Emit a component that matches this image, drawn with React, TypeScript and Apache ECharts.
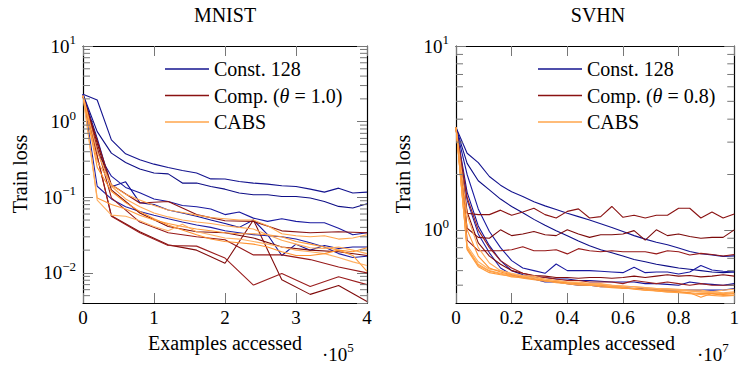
import React, { useEffect, useRef } from 'react';
import * as echarts from 'echarts';

// ---------- MNIST ----------
const mnistXDense = [0, 0.2, 0.4, 0.6, 0.8, 1.0, 1.2, 1.4, 1.6, 1.8, 2.0, 2.2, 2.4, 2.6, 2.8, 3.0, 3.2, 3.4, 3.6, 3.8, 4.0];
const mnistXSparse = [0, 0.4, 0.8, 1.2, 1.6, 2.0, 2.4, 2.8, 3.2, 3.6, 4.0];

const mnistConst1 = [2.3, 1.93, 0.574, 0.375, 0.313, 0.274, 0.247, 0.226, 0.209, 0.175, 0.174, 0.162, 0.154, 0.149, 0.142, 0.139, 0.128, 0.117, 0.132, 0.114, 0.117];
const mnistConst2 = [2.3, 0.738, 0.383, 0.288, 0.236, 0.209, 0.204, 0.154, 0.154, 0.139, 0.128, 0.114, 0.108, 0.108, 0.1025, 0.1025, 0.0976, 0.088, 0.0757, 0.072, 0.082];
const mnistConst3 = [2.3, 0.40, 0.19, 0.135, 0.115, 0.095, 0.088, 0.078, 0.075, 0.07, 0.059, 0.064, 0.053, 0.048, 0.052, 0.048, 0.046, 0.046, 0.039, 0.032, 0.034];
const mnistConst4 = [2.3, 0.60, 0.138, 0.16, 0.085, 0.08, 0.068, 0.062, 0.056, 0.05, 0.045, 0.04, 0.05, 0.032, 0.017, 0.024, 0.02, 0.023, 0.021, 0.022, 0.022];
const mnistConst5 = [2.3, 0.14, 0.095, 0.075, 0.065, 0.058, 0.052, 0.047, 0.043, 0.040, 0.036, 0.034, 0.032, 0.031, 0.030, 0.028, 0.025, 0.022, 0.018, 0.016, 0.0166];

const mnistComp1 = [2.15, 0.146, 0.084, 0.088, 0.059, 0.049, 0.048, 0.036, 0.034, 0.035, 0.034];
const mnistComp2 = [2.15, 0.125, 0.062, 0.041, 0.035, 0.034, 0.029, 0.022, 0.020, 0.019, 0.017];
const mnistComp3 = [2.15, 0.098, 0.047, 0.034, 0.030, 0.0275, 0.0173, 0.0173, 0.015, 0.012, 0.010];
const mnistComp4 = [2.15, 0.057, 0.035, 0.0235, 0.020, 0.0134, 0.050, 0.0081, 0.0052, 0.0068, 0.0042];
const mnistComp5 = [2.15, 0.056, 0.034, 0.023, 0.0226, 0.0157, 0.0069, 0.0098, 0.0066, 0.0089, 0.007];

const mnistCabs1 = [2.2, 0.3, 0.145, 0.11, 0.092, 0.078, 0.068, 0.063, 0.058, 0.054, 0.052, 0.050, 0.050, 0.042, 0.033, 0.031, 0.030, 0.031, 0.028, 0.029, 0.032];
const mnistCabs2 = [2.2, 0.098, 0.080, 0.070, 0.058, 0.050, 0.045, 0.041, 0.038, 0.036, 0.034, 0.033, 0.033, 0.032, 0.030, 0.026, 0.024, 0.022, 0.020, 0.017, 0.0105];
const mnistCabs3 = [2.2, 0.092, 0.058, 0.056, 0.049, 0.041, 0.036, 0.044, 0.035, 0.032, 0.029, 0.028, 0.026, 0.024, 0.022, 0.020, 0.019, 0.018, 0.016, 0.014, 0.0125];
const mnistCabs4 = [2.2, 0.25, 0.12, 0.085, 0.065, 0.052, 0.043, 0.037, 0.032, 0.028, 0.026, 0.025, 0.024, 0.022, 0.019, 0.017, 0.017, 0.018, 0.020, 0.019, 0.0215];
const mnistCabs5 = [2.2, 0.4, 0.14, 0.095, 0.075, 0.062, 0.055, 0.05, 0.047, 0.045, 0.042, 0.04, 0.038, 0.032, 0.027, 0.024, 0.0215, 0.021, 0.022, 0.02, 0.018];

const mnistMinorTicks = [0.005, 0.006, 0.007, 0.008, 0.009, 0.02, 0.03, 0.04, 0.05, 0.06, 0.07, 0.08, 0.09, 0.2, 0.3, 0.4, 0.5, 0.6, 0.7, 0.8, 0.9, 2, 3, 4, 5, 6, 7, 8, 9];

// ---------- SVHN ----------
const svhnX = [0, 0.04, 0.08, 0.12, 0.16, 0.2, 0.24, 0.28, 0.32, 0.36, 0.4, 0.44, 0.48, 0.52, 0.56, 0.6, 0.64, 0.68, 0.72, 0.76, 0.8, 0.84, 0.88, 0.92, 0.96, 1.0];

const svhnConst1 = [3.6, 2.61, 2.32, 1.95, 1.75, 1.61, 1.52, 1.42, 1.35, 1.29, 1.23, 1.18, 1.13, 1.08, 1.03, 0.98, 0.93, 0.89, 0.857, 0.83, 0.796, 0.763, 0.741, 0.731, 0.717, 0.722];
const svhnConst2 = [3.6, 2.3, 1.85, 1.65, 1.47, 1.34, 1.24, 1.14, 1.06, 0.99, 0.93, 0.87, 0.82, 0.78, 0.75, 0.72, 0.69, 0.67, 0.65, 0.635, 0.62, 0.61, 0.6, 0.59, 0.585, 0.59];
const svhnConst3 = [3.6, 2.0, 1.3, 0.98, 0.8, 0.68, 0.62, 0.6, 0.58, 0.652, 0.6, 0.6, 0.6, 0.595, 0.59, 0.585, 0.625, 0.585, 0.59, 0.59, 0.575, 0.59, 0.64, 0.605, 0.595, 0.59];
const svhnConst4 = [3.6, 1.6, 1.05, 0.82, 0.68, 0.6, 0.57, 0.55, 0.55, 0.54, 0.54, 0.53, 0.53, 0.525, 0.52, 0.52, 0.52, 0.51, 0.51, 0.505, 0.5, 0.52, 0.51, 0.505, 0.5, 0.51];
const svhnConst5 = [3.6, 1.45, 0.95, 0.75, 0.62, 0.57, 0.55, 0.54, 0.52, 0.52, 0.51, 0.5, 0.5, 0.49, 0.49, 0.485, 0.48, 0.48, 0.475, 0.47, 0.47, 0.47, 0.47, 0.47, 0.47, 0.48];

const svhnComp1 = [3.6, 1.23, 1.21, 1.21, 1.28, 1.2, 1.25, 1.31, 1.21, 1.16, 1.26, 1.3, 1.16, 1.18, 1.34, 1.17, 1.2, 1.16, 1.2, 1.2, 1.31, 1.31, 1.16, 1.25, 1.16, 1.22];
const svhnComp2 = [3.6, 1.02, 0.91, 0.90, 1.0, 0.93, 0.95, 0.98, 0.94, 0.93, 1.0, 0.95, 0.91, 0.94, 0.94, 0.95, 0.99, 0.88, 1.0, 0.93, 0.95, 0.92, 0.9, 0.91, 0.91, 1.0];
const svhnComp3 = [3.6, 0.88, 0.77, 0.77, 0.77, 0.78, 0.81, 0.77, 0.77, 0.78, 0.74, 0.79, 0.77, 0.76, 0.77, 0.76, 0.76, 0.76, 0.74, 0.77, 0.76, 0.73, 0.745, 0.735, 0.72, 0.735];
const svhnComp4 = [3.6, 1.25, 0.85, 0.72, 0.65, 0.6, 0.58, 0.565, 0.56, 0.55, 0.55, 0.545, 0.55, 0.55, 0.545, 0.55, 0.56, 0.55, 0.56, 0.57, 0.56, 0.565, 0.555, 0.56, 0.57, 0.56];
const svhnComp5 = [3.6, 1.5, 1.0, 0.8, 0.68, 0.62, 0.58, 0.56, 0.55, 0.54, 0.53, 0.53, 0.52, 0.52, 0.52, 0.51, 0.53, 0.52, 0.51, 0.52, 0.51, 0.5, 0.51, 0.5, 0.5, 0.5];

const svhnCabs1 = [3.6, 0.80, 0.65, 0.6, 0.58, 0.565, 0.56, 0.55, 0.53, 0.525, 0.515, 0.51, 0.505, 0.5, 0.495, 0.49, 0.49, 0.48, 0.475, 0.47, 0.47, 0.465, 0.46, 0.455, 0.45, 0.455];
const svhnCabs2 = [3.6, 0.78, 0.63, 0.585, 0.57, 0.56, 0.545, 0.535, 0.525, 0.52, 0.51, 0.5, 0.5, 0.49, 0.485, 0.48, 0.48, 0.475, 0.465, 0.46, 0.46, 0.455, 0.45, 0.45, 0.44, 0.44];
const svhnCabs3 = [3.6, 0.82, 0.67, 0.61, 0.6, 0.58, 0.565, 0.56, 0.54, 0.53, 0.52, 0.52, 0.51, 0.51, 0.5, 0.495, 0.49, 0.485, 0.48, 0.48, 0.475, 0.47, 0.47, 0.46, 0.47, 0.475];
const svhnCabs4 = [3.6, 1.0, 0.72, 0.62, 0.59, 0.57, 0.555, 0.54, 0.53, 0.52, 0.515, 0.51, 0.5, 0.5, 0.49, 0.485, 0.475, 0.47, 0.47, 0.465, 0.46, 0.455, 0.43, 0.45, 0.445, 0.45];
const svhnCabs5 = [3.6, 1.2, 0.8, 0.66, 0.6, 0.575, 0.56, 0.55, 0.54, 0.53, 0.52, 0.515, 0.51, 0.505, 0.5, 0.495, 0.49, 0.485, 0.48, 0.475, 0.47, 0.465, 0.46, 0.46, 0.455, 0.46];
const svhnCabs6 = [3.6, 0.79, 0.64, 0.595, 0.575, 0.555, 0.55, 0.54, 0.53, 0.515, 0.51, 0.505, 0.5, 0.495, 0.49, 0.485, 0.48, 0.47, 0.465, 0.46, 0.455, 0.45, 0.445, 0.44, 0.435, 0.44];

const svhnMinorTicks = [0.5, 0.6, 0.7, 0.8, 0.9, 2, 3, 4, 5, 6, 7, 8, 9];

const blueShades = ['#14148f', '#0e0e86', '#1a1aa0', '#12129a', '#2020a6'];
const redShades = ['#8a1212', '#7c0a0a', '#961818', '#800c0c', '#9a1e1e'];
const orangeShades = ['#ffa64d', '#ff9a3a', '#ffb062', '#ff922e', '#ffaa58', '#ff9f44'];

const FONT = "'Liberation Serif', 'DejaVu Serif', serif";
const FS = 20;

const supLabel = (v: number) => {
  const e = Math.log10(v);
  const r = Math.round(e);
  if (Math.abs(e - r) > 1e-6) return '';
  return `{b|10}{s|${r < 0 ? '\u2212' + -r : r}}`;
};
const supRich = {
  b: { fontSize: 19, fontFamily: FONT, color: '#000', lineHeight: 26 },
  s: { fontSize: 13, fontFamily: FONT, color: '#000', lineHeight: 13, verticalAlign: 'top' },
};

export default function App() {
  const ref = useRef<HTMLDivElement>(null);
  useEffect(() => {
    if (!ref.current) return;
    const chart = echarts.init(ref.current, undefined, { renderer: 'svg' });

    const mkLine = (name: string, xs: number[], ys: number[], color: string, gi: number) => ({
      type: 'line',
      name,
      xAxisIndex: gi * 2,
      yAxisIndex: gi * 2,
      data: xs.map((x, i) => [x, ys[i]]),
      symbol: 'none',
      showSymbol: false,
      lineStyle: { color, width: 1.1 },
      itemStyle: { color },
      z: 3,
    });

    const mkMinor = (vals: number[], gi: number) => ({
      type: 'custom',
      xAxisIndex: gi * 2,
      yAxisIndex: gi * 2,
      silent: true,
      clip: false,
      z: 5,
      data: vals.map((v) => [0, v]),
      renderItem: (params: any, api: any) => {
        const cs = params.coordSys;
        const y = api.coord([0, api.value(1)])[1];
        return {
          type: 'group',
          children: [
            { type: 'line', shape: { x1: cs.x, y1: y, x2: cs.x + 7, y2: y }, style: { stroke: '#777', lineWidth: 1 } },
            { type: 'line', shape: { x1: cs.x + cs.width - 7, y1: y, x2: cs.x + cs.width, y2: y }, style: { stroke: '#777', lineWidth: 1 } },
          ],
        };
      },
    });

    const cMnist = 'Const. 128';
    const pMnist = 'Comp. (θ = 1.0)';
    const pSvhn = 'Comp. (θ = 0.8)';
    const cabs = 'CABS';

    const series: any[] = [];
    [mnistConst1, mnistConst2, mnistConst3, mnistConst4, mnistConst5].forEach((d, i) => series.push(mkLine(cMnist, mnistXDense, d, blueShades[i], 0)));
    [mnistComp1, mnistComp2, mnistComp3, mnistComp4, mnistComp5].forEach((d, i) => series.push(mkLine(pMnist, mnistXSparse, d, redShades[i], 0)));
    [mnistCabs1, mnistCabs2, mnistCabs3, mnistCabs4, mnistCabs5].forEach((d, i) => series.push(mkLine(cabs, mnistXDense, d, orangeShades[i], 0)));
    [svhnConst1, svhnConst2, svhnConst3, svhnConst4, svhnConst5].forEach((d, i) => series.push(mkLine(cMnist, svhnX, d, blueShades[i], 1)));
    [svhnComp1, svhnComp2, svhnComp3, svhnComp4, svhnComp5].forEach((d, i) => series.push(mkLine(pSvhn, svhnX, d, redShades[i], 1)));
    [svhnCabs1, svhnCabs2, svhnCabs3, svhnCabs4, svhnCabs5, svhnCabs6].forEach((d, i) => series.push(mkLine(cabs, svhnX, d, orangeShades[i], 1)));
    series.push(mkMinor(mnistMinorTicks, 0));
    series.push(mkMinor(svhnMinorTicks, 1));

    const axisLine = { show: true, onZero: false, lineStyle: { color: '#000', width: 1.2 } };
    const tick = { show: true, inside: true, length: 10, lineStyle: { color: '#777', width: 1 } };
    const xLabel = { margin: 5, fontSize: 19, fontFamily: FONT, color: '#000' };

    const mkX = (gi: number, max: number, interval: number) => [
      { gridIndex: gi, type: 'value', min: 0, max, interval, position: 'bottom', axisLine, axisTick: tick, axisLabel: xLabel, splitLine: { show: false } },
      { gridIndex: gi, type: 'value', min: 0, max, interval, position: 'top', axisLine, axisTick: tick, axisLabel: { show: false }, splitLine: { show: false } },
    ];
    const mkY = (gi: number, min: number) => [
      {
        gridIndex: gi, type: 'log', logBase: 10, min, max: 10, position: 'left', axisLine, axisTick: tick,
        axisLabel: { margin: 7, formatter: supLabel, rich: supRich, showMinLabel: false }, splitLine: { show: false },
      },
      {
        gridIndex: gi, type: 'log', logBase: 10, min, max: 10, position: 'right', axisLine, axisTick: tick,
        axisLabel: { show: false }, splitLine: { show: false },
      },
    ];

    const legendText = {
      fontFamily: FONT, fontSize: FS, color: '#000', lineHeight: 20,
      rich: { i: { fontFamily: FONT, fontSize: FS, fontStyle: 'italic', color: '#000', lineHeight: 20 } },
    };
    const legendFmt = (n: string) => n.replace('θ', '{i|θ}');
    const legendBase = {
      orient: 'vertical', top: 54, itemWidth: 44, itemHeight: 1.4, itemGap: 6.5, icon: 'rect',
      textStyle: legendText, formatter: legendFmt, selectedMode: false,
    };

    const textEl = (text: string, x: number, y: number, rotation = 0) => ({
      type: 'text', x, y, rotation,
      style: { text, fontFamily: FONT, fontSize: FS, fill: '#000', textAlign: 'center', textVerticalAlign: 'middle' },
    });
    const expEl = (exp: string, x: number, y: number) => ({
      type: 'text', x, y,
      style: {
        text: `{b|·10}{s|${exp}}`, textAlign: 'left', textVerticalAlign: 'middle',
        rich: supRich,
      },
    });

    chart.setOption({
      animation: false,
      backgroundColor: '#fff',
      grid: [
        { left: 83, top: 46, width: 284, height: 257 },
        { left: 456, top: 46, width: 285, height: 257 },
      ],
      xAxis: [...mkX(0, 4, 1), ...mkX(1, 1, 0.2)],
      yAxis: [...mkY(0, 0.004), ...mkY(1, 0.4)],
      legend: [
        { ...legendBase, data: [cMnist, pMnist, cabs], left: 160 },
        { ...legendBase, data: [cMnist, pSvhn, cabs], left: 533 },
      ],
      graphic: [
        textEl('MNIST', 225, 15),
        textEl('SVHN', 598, 15),
        textEl('Train loss', 20, 174, Math.PI / 2),
        textEl('Train loss', 403, 174, Math.PI / 2),
        textEl('Examples accessed', 225, 343),
        textEl('Examples accessed', 598, 343),
        expEl('5', 322, 354),
        expEl('7', 697, 354),
      ],
      series,
    });
    return () => chart.dispose();
  }, []);
  return <div ref={ref} style={{ position: 'fixed', left: 0, top: 0, width: 742, height: 365 }} />;
}
